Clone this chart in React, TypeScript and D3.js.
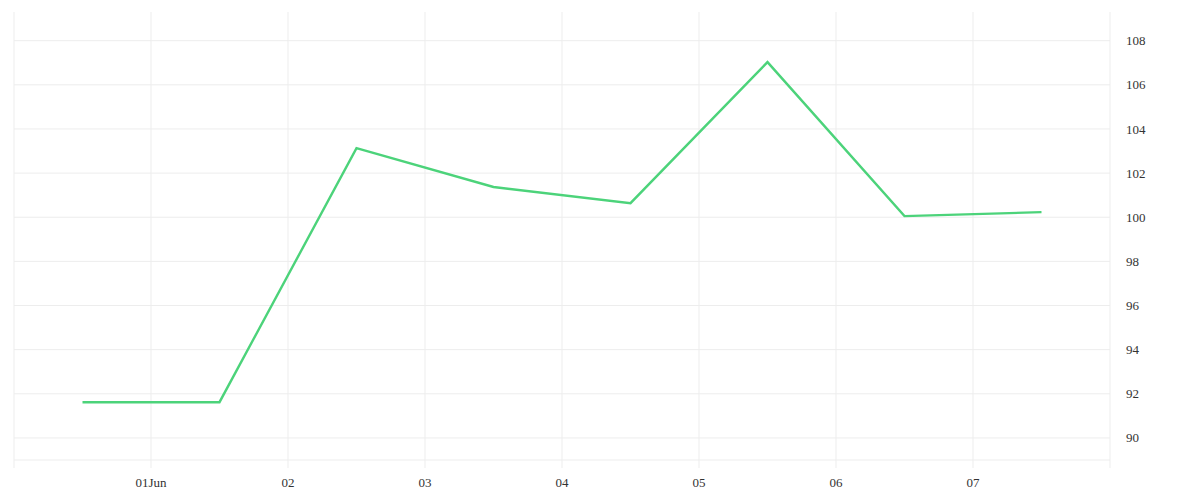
import * as d3 from "d3";

const dates = [
  "2024-05-31T12:00",
  "2024-06-01T12:00",
  "2024-06-02T12:00",
  "2024-06-03T12:00",
  "2024-06-04T12:00",
  "2024-06-05T12:00",
  "2024-06-06T12:00",
  "2024-06-07T12:00",
];
const values = [91.62, 91.62, 103.13, 101.37, 100.64, 107.03, 100.05, 100.23];
const yTicks = [90, 92, 94, 96, 98, 100, 102, 104, 106, 108];
const xTickDays = [
  "2024-06-01",
  "2024-06-02",
  "2024-06-03",
  "2024-06-04",
  "2024-06-05",
  "2024-06-06",
  "2024-06-07",
];

const width = 1200;
const height = 500;
const left = 14;
const right = 1110;
const top = 12;
const bottom = 460;

const parse = d3.timeParse("%Y-%m-%dT%H:%M");
const parseDay = d3.timeParse("%Y-%m-%d");

export default function App() {
  const x = d3
    .scaleTime()
    .domain([parseDay("2024-05-31")!, parseDay("2024-06-08")!])
    .range([left, right]);
  const y = d3.scaleLinear().domain([89, 109.3]).range([bottom, top]);

  const points = dates.map((d, i) => ({ date: parse(d)!, value: values[i] }));
  const line = d3
    .line<{ date: Date; value: number }>()
    .x((d) => x(d.date))
    .y((d) => y(d.value));

  const ticks = xTickDays.map((d) => parseDay(d)!);
  const fmt = (d: Date, i: number) =>
    i === 0 ? d3.timeFormat("%d")(d) + "Jun" : d3.timeFormat("%d")(d);

  const grid = "#ededed";
  const textColor = "#333";

  return (
    <svg
      width={width}
      height={height}
      style={{ position: "absolute", left: 0, top: 0, background: "#fff" }}
      fontFamily="'Liberation Serif', serif"
    >
      {yTicks.map((t) => (
        <line key={"h" + t} x1={left} x2={right} y1={y(t)} y2={y(t)} stroke={grid} />
      ))}
      <line x1={left} x2={right} y1={y(89)} y2={y(89)} stroke={grid} />
      {[x.domain()[0], ...ticks, x.domain()[1]].map((t, i) => (
        <line
          key={"v" + i}
          x1={x(t)}
          x2={x(t)}
          y1={top}
          y2={bottom + 8}
          stroke={grid}
        />
      ))}
      {yTicks.map((t) => (
        <text
          key={"yl" + t}
          x={right + 16}
          y={y(t)}
          dy="0.35em"
          fontSize={13}
          fill={textColor}
        >
          {t}
        </text>
      ))}
      {ticks.map((t, i) => (
        <text
          key={"xl" + i}
          x={x(t)}
          y={487}
          textAnchor="middle"
          fontSize={13}
          fill={textColor}
        >
          {fmt(t, i)}
        </text>
      ))}
      <path d={line(points) ?? ""} fill="none" stroke="#4cd37a" strokeWidth={2.4} />
    </svg>
  );
}
